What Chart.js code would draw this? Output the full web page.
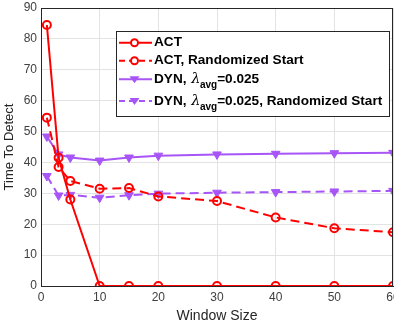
<!DOCTYPE html>
<html><head><meta charset="utf-8">
<script src="https://cdn.jsdelivr.net/npm/chart.js@4/dist/chart.umd.min.js"></script>
<style>html,body{margin:0;padding:0;background:#fff;overflow:hidden}#wrap{width:394px;height:325px;overflow:hidden}canvas{display:block}</style>
</head><body><div id="wrap"><canvas id="c" width="399" height="325"></canvas></div>
<script>
const windowSizes = [1, 3, 5, 10, 15, 20, 30, 40, 50, 60];
const actValues = [84.5, 41.5, 28, 0, 0, 0, 0, 0, 0, 0];
const actRandValues = [54.5, 38.5, 34, 31.5, 31.7, 29, 27.5, 22.2, 18.7, 17.4];
const dynValues = [48.4, 42.6, 41.6, 40.6, 41.6, 42.2, 42.6, 42.8, 43, 43.1];
const dynRandValues = [35.6, 29.3, 29.5, 28.6, 29.4, 29.9, 30.2, 30.4, 30.6, 30.8];
const xTicks = [0, 10, 20, 30, 40, 50, 60];
const yTicks = [0, 10, 20, 30, 40, 50, 60, 70, 80, 90];
const legendLabels = ['ACT', 'ACT, Randomized Start', 'DYN, \u03bb|avg|=0.025', 'DYN, \u03bb|avg|=0.025, Randomized Start'];

const RED = '#ff0000';
const PURPLE = 'rgb(168,85,247)';
const toXY = vals => windowSizes.map((x, i) => ({x, y: vals[i]}));

const datasets = [
  {label: legendLabels[0], data: toXY(actValues), borderColor: RED, backgroundColor: 'rgba(0,0,0,0)', borderWidth: 2, pointStyle: 'circle', pointRadius: 4, pointBorderWidth: 2, pointBackgroundColor: 'rgba(0,0,0,0)', pointBorderColor: RED},
  {label: legendLabels[1], data: toXY(actRandValues), borderColor: RED, borderDash: [9, 5], backgroundColor: 'rgba(0,0,0,0)', borderWidth: 2, pointStyle: 'circle', pointRadius: 4, pointBorderWidth: 2, pointBackgroundColor: 'rgba(0,0,0,0)', pointBorderColor: RED},
  {label: legendLabels[2], data: toXY(dynValues), borderColor: PURPLE, backgroundColor: PURPLE, borderWidth: 2, pointStyle: 'triangle', rotation: 180, pointRadius: 5, pointBorderWidth: 1, pointBackgroundColor: PURPLE, pointBorderColor: PURPLE},
  {label: legendLabels[3], data: toXY(dynRandValues), borderColor: PURPLE, borderDash: [9, 5], backgroundColor: PURPLE, borderWidth: 2, pointStyle: 'triangle', rotation: 180, pointRadius: 5, pointBorderWidth: 1, pointBackgroundColor: PURPLE, pointBorderColor: PURPLE}
];

const FONT = '"Liberation Sans", Arial, sans-serif';

const legendPlugin = {
  id: 'matlabLegend',
  afterDraw(chart) {
    const ctx = chart.ctx;
    const bx = 116, by = 31, bw = 273, bh = 85;
    ctx.save();
    ctx.fillStyle = '#fff';
    ctx.fillRect(bx, by, bw, bh);
    ctx.strokeStyle = '#262626';
    ctx.lineWidth = 1;
    ctx.strokeRect(bx + 0.5, by + 0.5, bw, bh);
    const rows = [42.7, 60.7, 79.3, 101];
    chart.data.datasets.forEach((ds, i) => {
      const y = rows[i];
      ctx.strokeStyle = ds.borderColor;
      ctx.lineWidth = 2;
      ctx.setLineDash(ds.borderDash ? [6, 4] : []);
      ctx.beginPath(); ctx.moveTo(119, y); ctx.lineTo(152, y); ctx.stroke();
      ctx.setLineDash([]);
      if (ds.pointStyle === 'circle') {
        ctx.beginPath(); ctx.arc(134.5, y, 3.5, 0, Math.PI * 2);
        ctx.fillStyle = '#fff'; ctx.fill();
        ctx.lineWidth = 2; ctx.strokeStyle = ds.borderColor; ctx.stroke();
      } else {
        ctx.beginPath();
        ctx.moveTo(129.5, y - 3); ctx.lineTo(139.5, y - 3); ctx.lineTo(134.5, y + 4); ctx.closePath();
        ctx.fillStyle = ds.borderColor; ctx.fill();
      }
      ctx.fillStyle = '#000';
      ctx.textBaseline = 'middle';
      const parts = ds.label.split('|');
      let x = 154;
      const first = parts[0].replace('\u03bb', '');
      ctx.font = 'bold 13.6px ' + FONT;
      ctx.fillText(first, x, y);
      x += ctx.measureText(first).width;
      if (parts.length > 1) {
        ctx.font = 'italic 14.5px "DejaVu Serif", serif';
        ctx.fillText('\u03bb', x + 1, y);
        x += ctx.measureText('\u03bb').width + 0.5;
        ctx.font = 'bold 10px ' + FONT;
        ctx.fillText(parts[1], x, y + 6);
        x += ctx.measureText(parts[1]).width;
        ctx.font = 'bold 13.6px ' + FONT;
        ctx.fillText(parts[2], x, y);
      }
    });
    ctx.restore();
  }
};

const framePlugin = {
  id: 'frame',
  afterDatasetsDraw(chart) {
    const {ctx, chartArea: a} = chart;
    ctx.save();
    ctx.strokeStyle = '#262626';
    ctx.lineWidth = 1;
    ctx.beginPath();
    ctx.moveTo(a.left, a.top + 0.5); ctx.lineTo(a.right, a.top + 0.5);
    ctx.moveTo(a.right - 0.5, a.top); ctx.lineTo(a.right - 0.5, a.bottom);
    ctx.stroke();
    ctx.restore();
  }
};

const noPad = s => { s.paddingLeft = 0; s.paddingRight = 0; s.paddingTop = 0; s.paddingBottom = 0; };

new Chart(document.getElementById('c'), {
  type: 'line',
  data: {datasets},
  options: {
    responsive: false,
    animation: false,
    devicePixelRatio: 1,
    layout: {padding: {left: 2, right: 0, top: 8, bottom: 0}},
    plugins: {legend: {display: false}, tooltip: {enabled: false}},
    scales: {
      x: {
        type: 'linear', min: 0, max: 60,
        afterBuildTicks: s => { s.ticks = xTicks.map(v => ({value: v})); },
        afterFit: s => { s.height = 39; noPad(s); },
        grid: {color: '#e3e3e3', lineWidth: 1, drawTicks: false, tickLength: 0},
        border: {color: '#262626', width: 1},
        ticks: {color: '#404040', font: {family: FONT, size: 12}, padding: 4, maxRotation: 0},
        title: {display: true, text: 'Window Size', color: '#262626', font: {family: FONT, size: 14}, padding: {top: 2, bottom: 0}}
      },
      y: {
        type: 'linear', min: 0, max: 90,
        afterBuildTicks: s => { s.ticks = yTicks.map(v => ({value: v})); },
        afterFit: s => { s.width = 39; noPad(s); },
        grid: {color: '#e3e3e3', lineWidth: 1, drawTicks: false, tickLength: 0},
        border: {color: '#262626', width: 1},
        ticks: {color: '#404040', font: {family: FONT, size: 12}, padding: 4},
        title: {display: true, text: 'Time To Detect', color: '#262626', font: {family: FONT, size: 13}, padding: {top: 0, bottom: 1}}
      }
    }
  },
  plugins: [framePlugin, legendPlugin]
});
</script>
</body></html>
